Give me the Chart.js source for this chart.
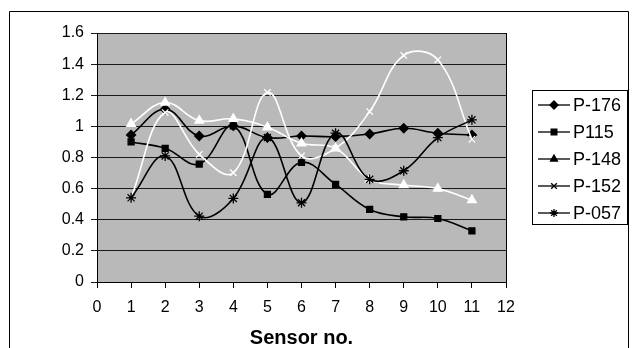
<!DOCTYPE html>
<html><head><meta charset="utf-8">
<script src="https://cdn.jsdelivr.net/npm/chart.js@4/dist/chart.umd.min.js"></script>
<style>html,body{margin:0;padding:0;background:#fff;overflow:hidden}</style>
</head><body>
<canvas id="c" width="634" height="348"></canvas>
<script>
const sensors = [1,2,3,4,5,6,7,8,9,10,11];
const seriesNames = ['P-176','P115','P-148','P-152','P-057'];
const p176 = [0.945,1.11,0.938,1.003,0.928,0.938,0.934,0.951,0.988,0.956,0.945];
const p115 = [0.90,0.859,0.758,1.003,0.563,0.769,0.627,0.466,0.419,0.408,0.329];
const p148 = [1.016,1.153,1.037,1.048,0.994,0.891,0.859,0.66,0.623,0.60,0.526];
const p152 = [0.541,1.089,0.82,0.702,1.218,0.81,0.859,1.095,1.456,1.428,0.917];
const p057 = [0.541,0.81,0.423,0.537,0.928,0.509,0.956,0.66,0.715,0.928,1.042];
const yTickLabels = ['0','0.2','0.4','0.6','0.8','1','1.2','1.4','1.6'];
const xTickLabels = ['0','1','2','3','4','5','6','7','8','9','10','11','12'];
const xTitle = 'Sensor no.';

const FONT = '"Liberation Sans", Arial, sans-serif';
const pts = vals => sensors.map((s,i)=>({x:s,y:vals[i]}));

const styles = [
  {color:'#000', fill:'#000', pointStyle:'rectRot', radius:4.5},
  {color:'#000', fill:'#000', pointStyle:'rect', radius:4.2},
  {color:'#fff', fill:'#fff', pointStyle:'triangle', radius:5},
  {color:'#fff', fill:'#fff', pointStyle:'crossRot', radius:4.5},
  {color:'#000', fill:'#000', pointStyle:'star', radius:5}
];
const allVals = [p176,p115,p148,p152,p057];

const datasets = allVals.map((v,i)=>({
  label: seriesNames[i],
  data: pts(v),
  borderColor: styles[i].color,
  backgroundColor: styles[i].fill,
  pointBackgroundColor: styles[i].fill,
  pointBorderColor: styles[i].color,
  pointStyle: styles[i].pointStyle,
  pointRadius: styles[i].radius,
  pointBorderWidth: 1.3,
  borderWidth: 1.6,
  tension: 0.4,
  order: 5 - i
}));

const deco = {
  id:'deco',
  beforeDraw(chart){
    const {ctx, chartArea:a} = chart;
    ctx.save();
    ctx.fillStyle='#fff'; ctx.fillRect(0,0,chart.width,chart.height);
    ctx.fillStyle='#b9b9b9'; ctx.fillRect(a.left,a.top,a.right-a.left,a.bottom-a.top);
    ctx.restore();
  },
  afterDraw(chart){
    const {ctx, chartArea:a} = chart;
    ctx.save();
    ctx.strokeStyle='#000'; ctx.lineWidth=1;
    ctx.beginPath();
    ctx.moveTo(Math.round(a.right)+0.5, a.top); ctx.lineTo(Math.round(a.right)+0.5, a.bottom);
    ctx.stroke();
    // outer frame
    ctx.beginPath();
    ctx.moveTo(9.5,350); ctx.lineTo(9.5,11.5); ctx.lineTo(628.5,11.5); ctx.lineTo(628.5,350);
    ctx.stroke();
    // legend
    const L=532.5,T=90.5,R=627.5,B=224.5;
    ctx.fillStyle='#fff'; ctx.fillRect(L,T,R-L,B-T);
    ctx.strokeStyle='#000'; ctx.strokeRect(L,T,R-L,B-T);
    ctx.font='18px '+FONT; ctx.textBaseline='middle'; ctx.textAlign='left';
    seriesNames.forEach((n,i)=>{
      const y = 105 + i*27;
      ctx.strokeStyle='#000'; ctx.fillStyle='#000'; ctx.lineWidth=1.3;
      ctx.beginPath(); ctx.moveTo(538,y); ctx.lineTo(570,y); ctx.stroke();
      Chart.helpers.drawPoint(ctx,{pointStyle:styles[i].pointStyle, radius:Math.min(styles[i].radius,4), rotation:0, borderWidth:1.3},554,y);
      ctx.fillStyle='#000';
      ctx.fillText(n,573,y+1);
    });
    ctx.restore();
  }
};

new Chart(document.getElementById('c'),{
  type:'line',
  data:{datasets},
  options:{
    responsive:false,
    animation:false,
    devicePixelRatio:1,
    layout:{padding:{top:33,right:128,bottom:0,left:0}},
    plugins:{legend:{display:false},tooltip:{enabled:false}},
    scales:{
      x:{
        type:'linear', min:0, max:12,
        afterFit(s){ s.height = 66; },
        ticks:{stepSize:1, color:'#000', font:{family:FONT,size:16}, padding:10,
          callback:(v)=> xTickLabels[v] ?? ''},
        grid:{drawOnChartArea:false, drawTicks:true, tickLength:6, color:'#000', lineWidth:1},
        border:{color:'#000', width:1},
        title:{display:true, text:xTitle, color:'#000', font:{family:FONT,size:20,weight:'bold',lineHeight:1}, padding:{top:0,bottom:0}}
      },
      y:{
        min:0, max:1.6,
        afterFit(s){ s.width = 97; },
        ticks:{stepSize:0.2, color:'#000', font:{family:FONT,size:16}, padding:7,
          callback:(v)=> yTickLabels[Math.round(v/0.2)] ?? ''},
        grid:{drawTicks:true, tickLength:6, color:'#1a1a1a', lineWidth:1},
        border:{color:'#000', width:1}
      }
    }
  },
  plugins:[deco]
});
</script>
</body></html>
